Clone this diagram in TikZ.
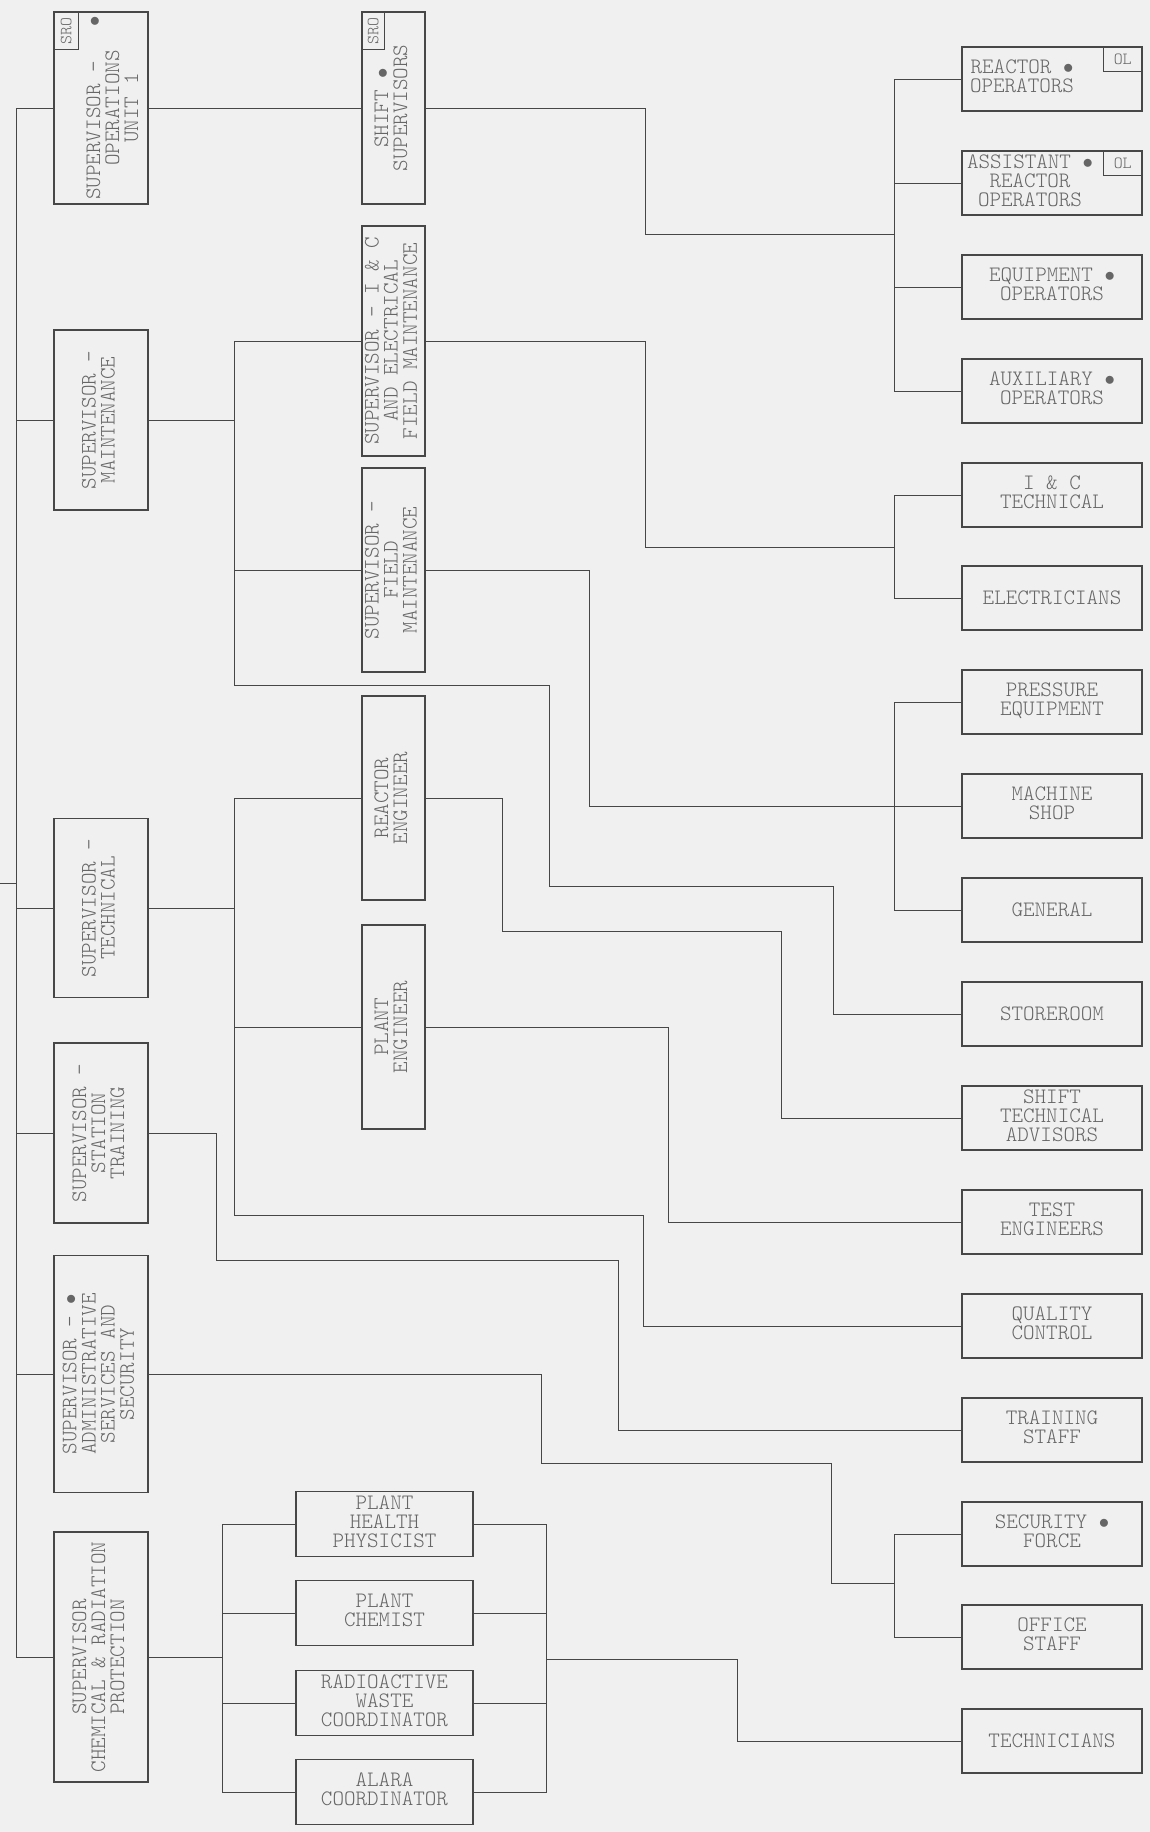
\documentclass[tikz,border=0pt]{standalone}
\usepackage{graphicx}

\definecolor{paper}{gray}{0.94}
\definecolor{ink}{gray}{0.28}
\definecolor{lettering}{gray}{0.40}

\newcommand{\boxtext}[1]{\begin{tabular}{@{}c@{}}#1\end{tabular}}
\newcommand{\sidetext}[1]{\rotatebox{90}{\boxtext{#1}}}
\newcommand{\dotmark}{$\bullet$}

\begin{document}
\begin{tikzpicture}[x=1pt, y=-1pt,
  conn/.style={draw=ink, line width=0.9pt},
  unit/.style={draw=ink, line width=1.4pt, rectangle, inner sep=0pt, text=lettering,
    font=\fontsize{22}{18}\ttfamily\fontseries{l}\selectfont},
  boss/.style={unit, minimum width=94pt},
  lead/.style={unit, minimum width=63pt},
  side/.style={unit, minimum width=180pt, minimum height=64pt},
  crew/.style={unit, minimum width=177pt, minimum height=65pt},
  tag/.style={draw=ink, line width=1pt, inner sep=0pt, text=lettering,
    font=\fontsize{17}{17}\ttfamily\fontseries{l}\selectfont}]

  \fill[paper] (0,0) rectangle (1150,1832);
  \useasboundingbox (0,0) rectangle (1150,1832);

  % supervisors
  \node[boss, minimum height=192pt] (opsup) at (101,108)
    {\hspace*{28pt}\sidetext{SUPERVISOR -~~~\dotmark\\OPERATIONS\\UNIT 1}};
  \node[boss, minimum height=180pt] (maintsup) at (101,420) {\sidetext{SUPERVISOR -\\MAINTENANCE}};
  \node[boss, minimum height=179pt] (techsup) at (101,908) {\sidetext{SUPERVISOR -\\TECHNICAL}};
  \node[boss, minimum height=180pt] (trainsup) at (101,1133) {\sidetext{SUPERVISOR -\\STATION\\TRAINING}};
  \node[boss, minimum height=237pt] (adminsup) at (101,1374)
    {\sidetext{SUPERVISOR - \dotmark\\ADMINISTRATIVE\\SERVICES AND\\SECURITY}};
  \node[boss, minimum height=250pt] (chemsup) at (101,1657)
    {\sidetext{SUPERVISOR\\CHEMICAL \& RADIATION\\PROTECTION}};
  \node[tag, anchor=north west, minimum width=25pt, minimum height=38pt] (opstag)
    at (opsup.north west) {\rotatebox{90}{SRO}};

  % second level
  \node[lead, minimum height=192pt] (shiftsup) at (393.5,108) {\sidetext{SHIFT \dotmark\\SUPERVISORS}};
  \node[lead, minimum height=230pt] (icsup) at (393.5,341)
    {\sidetext{SUPERVISOR - I \& C\\AND ELECTRICAL\\FIELD MAINTENANCE}};
  \node[lead, minimum height=204pt] (fieldsup) at (393.5,570) {\sidetext{SUPERVISOR -\\FIELD\\MAINTENANCE}};
  \node[lead, minimum height=204pt] (reacteng) at (393.5,798) {\sidetext{REACTOR\\ENGINEER}};
  \node[lead, minimum height=204pt] (planteng) at (393.5,1027) {\sidetext{PLANT\\ENGINEER}};
  \node[tag, anchor=north west, minimum width=23pt, minimum height=38pt] (shifttag)
    at (shiftsup.north west) {\rotatebox{90}{SRO}};

  % radiation protection staff
  \node[crew] (health) at (384.5,1524) {\boxtext{PLANT\\HEALTH\\PHYSICIST}};
  \node[crew] (chemist) at (384.5,1613) {\boxtext{PLANT\\CHEMIST}};
  \node[crew] (radwaste) at (384.5,1703) {\boxtext{RADIOACTIVE\\WASTE\\COORDINATOR}};
  \node[crew] (alara) at (384.5,1792) {\boxtext{ALARA\\COORDINATOR}};

  % working groups
  \node[side] (reactop) at (1052,79)
    {\boxtext{REACTOR \dotmark\hspace*{60pt}\\OPERATORS\hspace*{60pt}}};
  \node[side] (asstop) at (1052,183)
    {\boxtext{ASSISTANT \dotmark\hspace*{44pt}\\REACTOR\hspace*{44pt}\\OPERATORS\hspace*{44pt}}};
  \node[side] (equipop) at (1052,287) {\boxtext{EQUIPMENT \dotmark\\OPERATORS}};
  \node[side] (auxop) at (1052,391) {\boxtext{AUXILIARY \dotmark\\OPERATORS}};
  \node[side] (ictech) at (1052,495) {\boxtext{I \& C\\TECHNICAL}};
  \node[side] (elec) at (1052,598) {ELECTRICIANS};
  \node[side] (pressure) at (1052,702) {\boxtext{PRESSURE\\EQUIPMENT}};
  \node[side] (machine) at (1052,806) {\boxtext{MACHINE\\SHOP}};
  \node[side] (general) at (1052,910) {GENERAL};
  \node[side] (store) at (1052,1014) {STOREROOM};
  \node[side] (sta) at (1052,1118) {\boxtext{SHIFT\\TECHNICAL\\ADVISORS}};
  \node[side] (testeng) at (1052,1222) {\boxtext{TEST\\ENGINEERS}};
  \node[side] (qc) at (1052,1326) {\boxtext{QUALITY\\CONTROL}};
  \node[side] (trainstaff) at (1052,1430) {\boxtext{TRAINING\\STAFF}};
  \node[side] (security) at (1052,1534) {\boxtext{SECURITY \dotmark\\FORCE}};
  \node[side] (office) at (1052,1637) {\boxtext{OFFICE\\STAFF}};
  \node[side] (techs) at (1052,1741) {TECHNICIANS};
  \node[tag, anchor=north east, minimum width=39pt, minimum height=25pt] (roltag)
    at (reactop.north east) {OL};
  \node[tag, anchor=north east, minimum width=39pt, minimum height=25pt] (aoltag)
    at (asstop.north east) {OL};

  % bus lines
  \coordinate (trunk) at (16,0);
  \coordinate (feed) at (0,883);
  \coordinate (midbus) at (234,0);
  \coordinate (cbus) at (222,0);
  \coordinate (cout) at (546,0);
  \coordinate (rbus) at (894,0);

  % main trunk
  \draw[conn] (feed) -- (feed -| trunk);
  \draw[conn] (opsup.west) -- (opsup.west -| trunk) -- (chemsup.west -| trunk) -- (chemsup.west);
  \draw[conn] (maintsup.west) -- (maintsup.west -| trunk);
  \draw[conn] (techsup.west) -- (techsup.west -| trunk);
  \draw[conn] (trainsup.west) -- (trainsup.west -| trunk);
  \draw[conn] (adminsup.west) -- (adminsup.west -| trunk);

  % operations
  \coordinate (opsjog) at (645,234);
  \draw[conn] (opsup.east) -- (shiftsup.west);
  \draw[conn] (shiftsup.east) -| (opsjog) -- (opsjog -| rbus);
  \draw[conn] (reactop.west) -- (reactop.west -| rbus) -- (auxop.west -| rbus) -- (auxop.west);
  \draw[conn] (asstop.west) -- (asstop.west -| rbus);
  \draw[conn] (equipop.west) -- (equipop.west -| rbus);

  % maintenance
  \coordinate (mlow) at (234,685);
  \coordinate (mjog) at (549,886);
  \coordinate (storejog) at (833,886);
  \coordinate (icjog) at (645,547);
  \coordinate (fieldjog) at (589,0);
  \draw[conn] (maintsup.east) -- (maintsup.east -| midbus);
  \draw[conn] (icsup.west) -- (icsup.west -| midbus) -- (mlow);
  \draw[conn] (fieldsup.west) -- (fieldsup.west -| midbus);
  \draw[conn] (mlow) -| (mjog) -- (storejog) |- (store.west);
  \draw[conn] (icsup.east) -| (icjog) -- (icjog -| rbus);
  \draw[conn] (ictech.west) -- (ictech.west -| rbus) -- (elec.west -| rbus) -- (elec.west);
  \draw[conn] (fieldsup.east) -| (fieldjog |- machine.west) -- (machine.west);
  \draw[conn] (pressure.west) -- (pressure.west -| rbus) -- (general.west -| rbus) -- (general.west);

  % technical
  \coordinate (tlow) at (234,1215);
  \coordinate (qcjog) at (643,0);
  \coordinate (rejog) at (502,931);
  \coordinate (stajog) at (781,931);
  \coordinate (pejog) at (668,0);
  \draw[conn] (techsup.east) -- (techsup.east -| midbus);
  \draw[conn] (reacteng.west) -- (reacteng.west -| midbus) -- (tlow);
  \draw[conn] (planteng.west) -- (planteng.west -| midbus);
  \draw[conn] (tlow) -| (qcjog |- qc.west) -- (qc.west);
  \draw[conn] (reacteng.east) -| (rejog) -- (stajog) |- (sta.west);
  \draw[conn] (planteng.east) -| (pejog |- testeng.west) -- (testeng.west);

  % training
  \coordinate (trjog) at (216,1260);
  \coordinate (tsjog) at (618,1260);
  \draw[conn] (trainsup.east) -| (trjog) -- (tsjog) |- (trainstaff.west);

  % administration
  \coordinate (adjog) at (541,1463);
  \coordinate (secjog) at (831,1463);
  \coordinate (secfork) at (831,1583);
  \draw[conn] (adminsup.east) -| (adjog) -- (secjog) -- (secfork) -- (secfork -| rbus);
  \draw[conn] (security.west) -- (security.west -| rbus) -- (office.west -| rbus) -- (office.west);

  % chemistry and radiation protection
  \coordinate (tcjog) at (737,1659);
  \draw[conn] (chemsup.east) -- (chemsup.east -| cbus);
  \draw[conn] (health.west) -- (health.west -| cbus) -- (alara.west -| cbus) -- (alara.west);
  \draw[conn] (chemist.west) -- (chemist.west -| cbus);
  \draw[conn] (radwaste.west) -- (radwaste.west -| cbus);
  \draw[conn] (health.east) -- (health.east -| cout) -- (alara.east -| cout) -- (alara.east);
  \draw[conn] (chemist.east) -- (chemist.east -| cout);
  \draw[conn] (radwaste.east) -- (radwaste.east -| cout);
  \draw[conn] (tcjog -| cout) -- (tcjog) |- (techs.west);
\end{tikzpicture}
\end{document}
